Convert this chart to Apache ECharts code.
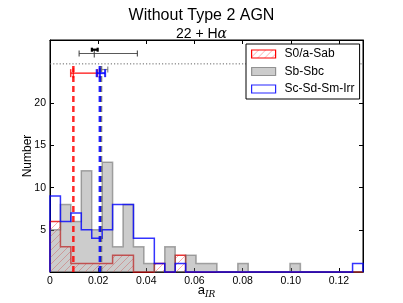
<!DOCTYPE html>
<html>
<head>
<meta charset="utf-8">
<script src="https://cdn.jsdelivr.net/npm/echarts@6/dist/echarts.min.js"></script>
<style>
html,body{margin:0;padding:0;background:#fff;}
#chart{width:403px;height:303px;}
</style>
</head>
<body>
<div id="chart"></div>
<script>
// ---- data ----
const xMin = 0;
const xMax = 0.13;
const binCount = 30;
const xTickValues = [0, 0.02, 0.04, 0.06, 0.08, 0.10, 0.12];
const yTickValues = [5, 10, 15, 20];
const seriesNames = ['S0/a-Sab', 'Sb-Sbc', 'Sc-Sd-Sm-Irr'];
const s0Counts = [6,3,1,1,1,1,2,2,0,0,1,0,2,0,0,0,0,0,0,0,0,0,0,0,0,0,0,0,0,0];
const sbCounts = [5,8,6,12,5,13,3,8,3,1,0,3,0,2,1,1,0,0,1,0,0,0,0,1,0,0,0,0,0,0];
const scCounts = [9,6,7,5,4,5,8,8,4,4,1,0,1,0,0,0,0,0,0,0,0,0,0,0,0,0,0,0,0,1];
const meanS0 = 0.0097;
const meanSb = 0.0212;
const meanSc = 0.0207;
const meanTop = 24.5;
const refLevel = 24.67;
// error bars: [low, high, y]
const errS0 = [0.0086, 0.0197, 23.57];
const errSc = [0.0194, 0.0229, 23.57];
const errSb = [0.0211, 0.0240, 24.0];
const errAllWide = [0.0121, 0.0363, 25.9];
const errAllNarrow = [0.0174, 0.0198, 26.35];
const errAllCenter = 0.0184;

// ---- derived ----
const binWidth = (xMax - xMin) / binCount;
const binEdges = [];
for (let i = 0; i <= binCount; i++) binEdges.push(xMin + i * binWidth);

function stepPoints(counts) {
  const pts = [[binEdges[0], 0]];
  for (let i = 0; i < counts.length; i++) {
    pts.push([binEdges[i], counts[i]]);
    pts.push([binEdges[i + 1], counts[i]]);
  }
  pts.push([binEdges[binEdges.length - 1], 0]);
  return pts;
}

// hatch pattern
const hatch = document.createElement('canvas');
hatch.width = 7; hatch.height = 7;
(function(){
  const ctx = hatch.getContext('2d');
  ctx.strokeStyle = 'rgba(255,60,60,0.55)';
  ctx.lineWidth = 0.8;
  ctx.beginPath();
  ctx.moveTo(-1, 8); ctx.lineTo(8, -1);
  ctx.moveTo(-1, 1); ctx.lineTo(1, -1);
  ctx.moveTo(6, 8); ctx.lineTo(8, 6);
  ctx.stroke();
})();
const hatchFill = { image: hatch, repeat: 'repeat' };

function histSeries(name, counts, fill, edge, width) {
  return {
    type: 'custom',
    name: name,
    coordinateSystem: 'cartesian2d',
    xAxisIndex: 0, yAxisIndex: 0,
    data: [[0, 0]],
    itemStyle: { color: fill, borderColor: edge, borderWidth: width },
    silent: true,
    renderItem: function (params, api) {
      const pts = stepPoints(counts).map(p => api.coord(p));
      return {
        type: 'group',
        children: [
          { type: 'polygon', shape: { points: pts }, style: { fill: fill, stroke: null } },
          { type: 'polyline', shape: { points: pts }, style: { fill: null, stroke: edge, lineWidth: width } }
        ]
      };
    }
  };
}

function errSeries(bars, color, width, capHalf, centers) {
  return {
    type: 'custom',
    coordinateSystem: 'cartesian2d',
    xAxisIndex: 0, yAxisIndex: 0,
    data: bars,
    silent: true,
    z: 5,
    renderItem: function (params, api) {
      const lo = api.coord([api.value(0), api.value(2)]);
      const hi = api.coord([api.value(1), api.value(2)]);
      const st = { stroke: color, lineWidth: width };
      const ch = [
        { type: 'line', shape: { x1: lo[0], y1: lo[1], x2: hi[0], y2: hi[1] }, style: st },
        { type: 'line', shape: { x1: lo[0], y1: lo[1] - capHalf, x2: lo[0], y2: lo[1] + capHalf }, style: st },
        { type: 'line', shape: { x1: hi[0], y1: hi[1] - capHalf, x2: hi[0], y2: hi[1] + capHalf }, style: st }
      ];
      (centers || []).forEach(c => {
        const p = api.coord([c, api.value(2)]);
        ch.push({ type: 'line', shape: { x1: p[0], y1: p[1] - capHalf - 1, x2: p[0], y2: p[1] + capHalf + 1 }, style: st });
      });
      return { type: 'group', children: ch };
    }
  };
}

function meanLine(x, color) {
  return {
    type: 'line',
    xAxisIndex: 0, yAxisIndex: 0,
    data: [[x, 0], [x, meanTop]],
    symbol: 'none',
    silent: true,
    z: 4,
    lineStyle: { color: color, width: 2.5, type: [6, 4] }
  };
}

const font = 'Liberation Sans, Arial, sans-serif';
const chart = echarts.init(document.getElementById('chart'), null, { renderer: 'canvas' });
chart.setOption({
  animation: false,
  backgroundColor: '#fff',
  title: [
    { text: 'Without Type 2 AGN', left: 'center', top: 3,
      textStyle: { fontFamily: font, fontSize: 16, fontWeight: 'normal', color: '#000' } },
    { text: '22 + H{a|α}', left: 'center', top: 22,
      textStyle: { fontFamily: font, fontSize: 14, fontWeight: 'normal', color: '#000',
        rich: { a: { fontFamily: 'DejaVu Serif, serif', fontStyle: 'italic', fontSize: 14, color: '#000' } } } }
  ],
  grid: { left: 50, right: 40, top: 40, bottom: 31, outerBoundsMode: 'none', containLabel: false,
    show: true, borderColor: '#000', borderWidth: 1, backgroundColor: 'transparent' },
  legend: {
    orient: 'vertical',
    left: 246, top: 44,
    padding: [3, 5, 3, 5],
    itemWidth: 24, itemHeight: 8, itemGap: 3.5,
    borderColor: '#000', borderWidth: 1,
    backgroundColor: '#fff',
    selectedMode: false,
    textStyle: { fontFamily: font, fontSize: 12, color: '#000', lineHeight: 14, padding: [0, 0, 0, 4] },
    data: [
      { name: seriesNames[0], icon: 'rect', itemStyle: { color: hatchFill, borderColor: '#ff0000', borderWidth: 1.2 } },
      { name: seriesNames[1], icon: 'rect', itemStyle: { color: 'rgba(128,128,128,0.4)', borderColor: 'rgba(90,90,90,0.6)', borderWidth: 1.2 } },
      { name: seriesNames[2], icon: 'rect', itemStyle: { color: '#fff', borderColor: 'rgba(0,0,255,0.85)', borderWidth: 1.2 } }
    ]
  },
  xAxis: [
    { type: 'value', position: 'bottom', min: xMin, max: xMax, interval: 0.02,
      name: 'a{s|IR}', nameLocation: 'middle', nameGap: 10, nameMoveOverlap: false,
      nameTextStyle: { fontFamily: font, fontSize: 13, color: '#000', verticalAlign: 'top',
        rich: { s: { fontFamily: 'DejaVu Serif, serif', fontStyle: 'italic', fontSize: 9, padding: [8, 0, 0, 0], color: '#000' } } },
      axisLine: { show: true, onZero: false, lineStyle: { color: '#000', width: 1 } },
      axisTick: { show: true, inside: true, length: 4, customValues: xTickValues, lineStyle: { color: '#000' } },
      axisLabel: { show: true, margin: 4, customValues: xTickValues, fontFamily: font, fontSize: 10.5, color: '#000',
        formatter: v => (v === 0 ? '0' : v.toFixed(2)) },
      splitLine: { show: false } },
    { type: 'value', position: 'top', min: xMin, max: xMax, interval: 0.02,
      axisLine: { show: true, onZero: false, lineStyle: { color: '#000', width: 1 } },
      axisTick: { show: true, inside: true, length: 4, customValues: xTickValues, lineStyle: { color: '#000' } },
      axisLabel: { show: false }, splitLine: { show: false } }
  ],
  yAxis: [
    { type: 'value', position: 'left', min: 0, max: 27.5, interval: 5,
      name: 'Number', nameLocation: 'middle', nameGap: 16, nameMoveOverlap: false,
      nameTextStyle: { fontFamily: font, fontSize: 12, color: '#000' },
      axisLine: { show: true, onZero: false, lineStyle: { color: '#000', width: 1 } },
      axisTick: { show: true, inside: true, length: 4, customValues: yTickValues, lineStyle: { color: '#000' } },
      axisLabel: { show: true, margin: 4, customValues: yTickValues, fontFamily: font, fontSize: 10.5, color: '#000' },
      splitLine: { show: false } },
    { type: 'value', position: 'right', min: 0, max: 27.5, interval: 5,
      axisLine: { show: true, onZero: false, lineStyle: { color: '#000', width: 1 } },
      axisTick: { show: true, inside: true, length: 4, customValues: yTickValues, lineStyle: { color: '#000' } },
      axisLabel: { show: false }, splitLine: { show: false } }
  ],
  series: [
    histSeries(seriesNames[0], s0Counts, hatchFill, 'rgba(230,0,0,0.8)', 1.5),
    histSeries(seriesNames[1], sbCounts, 'rgba(128,128,128,0.4)', 'rgba(90,90,90,0.5)', 1.5),
    histSeries(seriesNames[2], scCounts, 'rgba(0,0,0,0)', 'rgba(0,0,255,0.8)', 1.5),
    {
      type: 'line', xAxisIndex: 0, yAxisIndex: 0, symbol: 'none', silent: true, z: 3,
      data: [[xMin, refLevel], [xMax, refLevel]],
      lineStyle: { color: '#666', width: 1, type: [1.2, 2] }
    },
    meanLine(meanSb, 'rgba(90,90,90,0.8)'),
    meanLine(meanS0, 'rgba(255,0,0,0.85)'),
    meanLine(meanSc, 'rgba(0,0,255,0.85)'),
    errSeries([errSb], 'rgba(110,110,110,0.8)', 1.2, 3, []),
    errSeries([errS0], 'rgba(255,0,0,0.8)', 1.5, 4, [meanS0]),
    errSeries([errSc], 'rgba(0,0,255,0.85)', 2, 4, [meanSc]),
    errSeries([errAllWide], 'rgba(60,60,60,0.85)', 1.2, 3, [errAllCenter]),
    errSeries([errAllNarrow], '#000', 2.2, 2, [])
  ]
});
</script>
</body>
</html>
